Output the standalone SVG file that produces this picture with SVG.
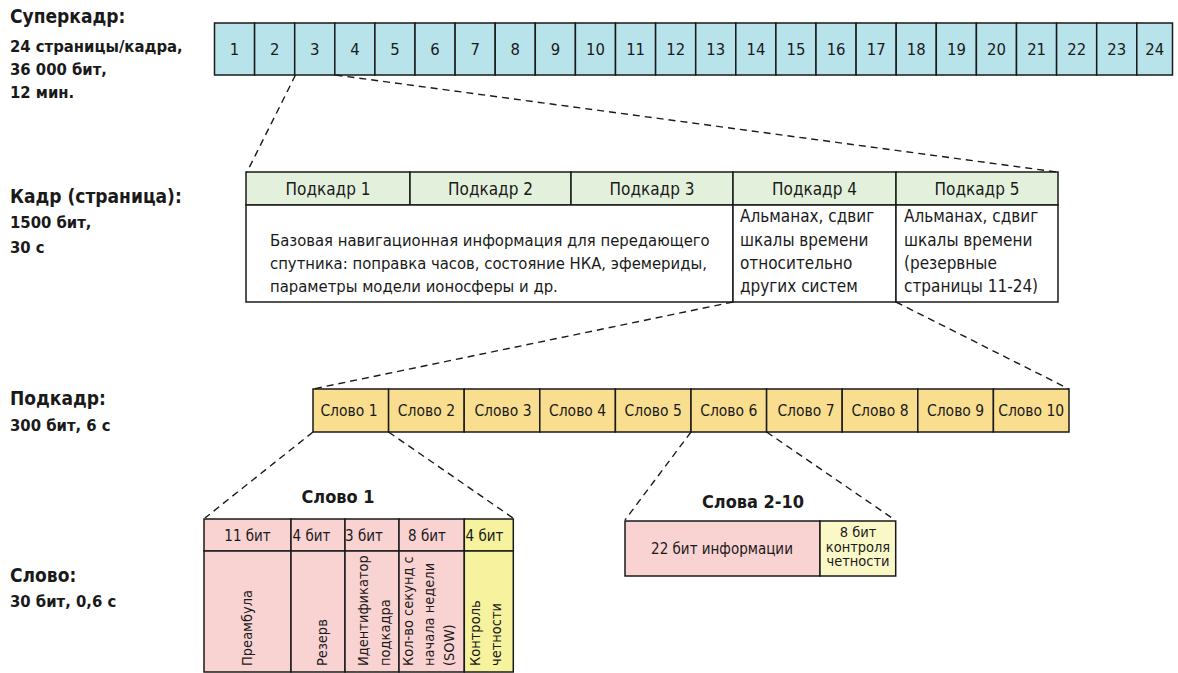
<svg xmlns="http://www.w3.org/2000/svg" width="1178" height="673" viewBox="0 0 1178 673">
  <style>
    text { font-family: "Liberation Sans Narrow", "DejaVu Sans Condensed", "Liberation Sans", sans-serif; fill: #1a1a1a; }
    .lbl { font-weight: bold; font-size: 19px; }
    .sub { font-weight: bold; font-size: 16.5px; }
    .num { font-size: 16.5px; text-anchor: middle; }
    .hd { font-size: 15px; text-anchor: middle; }
    .fh { font-size: 17px; text-anchor: middle; }
    .wl { font-size: 15.5px; text-anchor: middle; }
    .body { font-size: 16.5px; }
    .body2 { font-size: 17px; }
    .rot { font-size: 14.5px; }
    .ttl { font-weight: bold; font-size: 18px; text-anchor: middle; }
    .sm { font-size: 14.5px; text-anchor: middle; }
    .cell { stroke: #1a1a1a; stroke-width: 1.5; }
    .sf { fill: #b9e3ea; }
    .fr { fill: #e3f1dc; }
    .wd { fill: #f9de90; }
    .pk { fill: #f9d2d2; }
    .yl { fill: #f6f29e; }
    .yl2 { fill: #fbf8c8; }
    .wh { fill: #ffffff; }
    .dash { stroke: #1a1a1a; stroke-width: 1.4; stroke-dasharray: 7 5; fill: none; }
  </style>

  <!-- level captions on the left -->
  <g id="captions">
    <text class="lbl" x="10" y="23">Суперкадр:</text>
    <text class="sub" x="10" y="52">24 страницы/кадра,</text>
    <text class="sub" x="10" y="75">36 000 бит,</text>
    <text class="sub" x="10" y="98">12 мин.</text>
    <text class="lbl" x="10" y="203">Кадр (страница):</text>
    <text class="sub" x="10" y="228">1500 бит,</text>
    <text class="sub" x="10" y="253">30 с</text>
    <text class="lbl" x="10" y="405">Подкадр:</text>
    <text class="sub" x="10" y="431">300 бит, 6 с</text>
    <text class="lbl" x="10" y="582">Слово:</text>
    <text class="sub" x="10" y="607">30 бит, 0,6 с</text>
  </g>

  <!-- superframe: 24 pages -->
  <g id="superframe">
    <rect class="cell sf" x="214.5" y="23" width="40.1" height="52"/><text class="num" x="234.6" y="55">1</text>
    <rect class="cell sf" x="254.6" y="23" width="40.1" height="52"/><text class="num" x="274.7" y="55">2</text>
    <rect class="cell sf" x="294.7" y="23" width="40.1" height="52"/><text class="num" x="314.8" y="55">3</text>
    <rect class="cell sf" x="334.8" y="23" width="40.1" height="52"/><text class="num" x="354.9" y="55">4</text>
    <rect class="cell sf" x="374.9" y="23" width="40.1" height="52"/><text class="num" x="395.0" y="55">5</text>
    <rect class="cell sf" x="415.0" y="23" width="40.1" height="52"/><text class="num" x="435.1" y="55">6</text>
    <rect class="cell sf" x="455.1" y="23" width="40.1" height="52"/><text class="num" x="475.2" y="55">7</text>
    <rect class="cell sf" x="495.2" y="23" width="40.1" height="52"/><text class="num" x="515.3" y="55">8</text>
    <rect class="cell sf" x="535.3" y="23" width="40.1" height="52"/><text class="num" x="555.4" y="55">9</text>
    <rect class="cell sf" x="575.4" y="23" width="40.1" height="52"/><text class="num" x="595.5" y="55">10</text>
    <rect class="cell sf" x="615.5" y="23" width="40.1" height="52"/><text class="num" x="635.6" y="55">11</text>
    <rect class="cell sf" x="655.6" y="23" width="40.1" height="52"/><text class="num" x="675.7" y="55">12</text>
    <rect class="cell sf" x="695.7" y="23" width="40.1" height="52"/><text class="num" x="715.8" y="55">13</text>
    <rect class="cell sf" x="735.8" y="23" width="40.1" height="52"/><text class="num" x="755.9" y="55">14</text>
    <rect class="cell sf" x="775.9" y="23" width="40.1" height="52"/><text class="num" x="796.0" y="55">15</text>
    <rect class="cell sf" x="816.0" y="23" width="40.1" height="52"/><text class="num" x="836.1" y="55">16</text>
    <rect class="cell sf" x="856.1" y="23" width="40.1" height="52"/><text class="num" x="876.2" y="55">17</text>
    <rect class="cell sf" x="896.2" y="23" width="40.1" height="52"/><text class="num" x="916.3" y="55">18</text>
    <rect class="cell sf" x="936.3" y="23" width="40.1" height="52"/><text class="num" x="956.4" y="55">19</text>
    <rect class="cell sf" x="976.4" y="23" width="40.1" height="52"/><text class="num" x="996.5" y="55">20</text>
    <rect class="cell sf" x="1016.5" y="23" width="40.1" height="52"/><text class="num" x="1036.6" y="55">21</text>
    <rect class="cell sf" x="1056.6" y="23" width="40.1" height="52"/><text class="num" x="1076.7" y="55">22</text>
    <rect class="cell sf" x="1096.7" y="23" width="40.1" height="52"/><text class="num" x="1116.8" y="55">23</text>
    <rect class="cell sf" x="1136.8" y="23" width="35.7" height="52"/><text class="num" x="1154.7" y="55">24</text>
  </g>

  <!-- frame (page): 5 subframes -->
  <g id="frame">
    <rect class="cell fr" x="246" y="172" width="164" height="33"/>
    <rect class="cell fr" x="410" y="172" width="161" height="33"/>
    <rect class="cell fr" x="571" y="172" width="162" height="33"/>
    <rect class="cell fr" x="733" y="172" width="163" height="33"/>
    <rect class="cell fr" x="896" y="172" width="162" height="33"/>
    <text class="fh" x="328" y="195">Подкадр 1</text>
    <text class="fh" x="490.5" y="195">Подкадр 2</text>
    <text class="fh" x="652" y="195">Подкадр 3</text>
    <text class="fh" x="814.5" y="195">Подкадр 4</text>
    <text class="fh" x="977" y="195">Подкадр 5</text>
    <rect class="cell wh" x="246" y="205" width="487" height="97"/>
    <rect class="cell wh" x="733" y="205" width="163" height="97"/>
    <rect class="cell wh" x="896" y="205" width="162" height="97"/>
    <text class="body" x="270" y="246">Базовая навигационная информация для передающего</text>
    <text class="body" x="270" y="269">спутника: поправка часов, состояние НКА, эфемериды,</text>
    <text class="body" x="270" y="292">параметры модели ионосферы и др.</text>
    <text class="body2" x="740" y="222">Альманах, сдвиг</text>
    <text class="body2" x="740" y="246">шкалы времени</text>
    <text class="body2" x="740" y="269">относительно</text>
    <text class="body2" x="740" y="292">других систем</text>
    <text class="body2" x="904" y="222">Альманах, сдвиг</text>
    <text class="body2" x="904" y="246">шкалы времени</text>
    <text class="body2" x="904" y="269">(резервные</text>
    <text class="body2" x="904" y="292">страницы 11-24)</text>
  </g>

  <!-- subframe: 10 words -->
  <g id="subframe">
    <rect class="cell wd" x="313" y="389" width="75.6" height="43"/><text class="wl" x="349" y="416">Слово 1</text>
    <rect class="cell wd" x="388.6" y="389" width="75.6" height="43"/><text class="wl" x="426.4" y="416">Слово 2</text>
    <rect class="cell wd" x="464.2" y="389" width="75.6" height="43"/><text class="wl" x="503" y="416">Слово 3</text>
    <rect class="cell wd" x="539.8" y="389" width="75.6" height="43"/><text class="wl" x="577.6" y="416">Слово 4</text>
    <rect class="cell wd" x="615.4" y="389" width="75.6" height="43"/><text class="wl" x="653.2" y="416">Слово 5</text>
    <rect class="cell wd" x="691" y="389" width="75.6" height="43"/><text class="wl" x="728.8" y="416">Слово 6</text>
    <rect class="cell wd" x="766.6" y="389" width="75.6" height="43"/><text class="wl" x="806" y="416">Слово 7</text>
    <rect class="cell wd" x="842.2" y="389" width="75.6" height="43"/><text class="wl" x="880" y="416">Слово 8</text>
    <rect class="cell wd" x="917.8" y="389" width="75.6" height="43"/><text class="wl" x="955.6" y="416">Слово 9</text>
    <rect class="cell wd" x="993.4" y="389" width="75.6" height="43"/><text class="wl" x="1031.2" y="416">Слово 10</text>
  </g>

  <!-- word 1 layout -->
  <g id="word1">
    <text class="ttl" x="338" y="503">Слово 1</text>
    <rect class="cell pk" x="204" y="519" width="87" height="32"/>
    <rect class="cell pk" x="291" y="519" width="54" height="32"/>
    <rect class="cell pk" x="345" y="519" width="54" height="32"/>
    <rect class="cell pk" x="399" y="519" width="65.3" height="32"/>
    <rect class="cell yl" x="464.3" y="519" width="49" height="32"/>
    <rect class="cell pk" x="204" y="551" width="87" height="121"/>
    <rect class="cell pk" x="291" y="551" width="54" height="121"/>
    <rect class="cell pk" x="345" y="551" width="54" height="121"/>
    <rect class="cell pk" x="399" y="551" width="65.3" height="121"/>
    <rect class="cell yl" x="464.3" y="551" width="49" height="121"/>
    <text class="hd" x="247.5" y="541">11 бит</text>
    <text class="hd" x="311.5" y="541">4 бит</text>
    <text class="hd" x="364" y="541">3 бит</text>
    <text class="hd" x="427" y="541">8 бит</text>
    <text class="hd" x="484.5" y="541">4 бит</text>
    <text class="rot" transform="translate(252,666) rotate(-90)">Преамбула</text>
    <text class="rot" transform="translate(327,666) rotate(-90)">Резерв</text>
    <text class="rot" transform="translate(368,666) rotate(-90)">Идентификатор</text>
    <text class="rot" transform="translate(390,666) rotate(-90)">подкадра</text>
    <text class="rot" transform="translate(413,666) rotate(-90)">Кол-во секунд с</text>
    <text class="rot" transform="translate(434,666) rotate(-90)">начала недели</text>
    <text class="rot" transform="translate(454,666) rotate(-90)">(SOW)</text>
    <text class="rot" transform="translate(480,666) rotate(-90)">Контроль</text>
    <text class="rot" transform="translate(501,666) rotate(-90)">четности</text>
  </g>

  <!-- words 2-10 layout -->
  <g id="words2to10">
    <text class="ttl" x="753" y="508">Слова 2-10</text>
    <rect class="cell pk" x="625" y="521" width="195" height="55"/>
    <rect class="cell yl2" x="820" y="521" width="75.7" height="55"/>
    <text class="hd" x="722" y="553.5">22 бит информации</text>
    <text class="sm" x="858" y="537">8 бит</text>
    <text class="sm" x="858" y="552">контроля</text>
    <text class="sm" x="858" y="566">четности</text>
  </g>

  <!-- dashed zoom-in connectors between levels -->
  <g id="connectors">
    <line class="dash" x1="295.5" y1="75" x2="247" y2="172"/>
    <line class="dash" x1="335.5" y1="75" x2="1057" y2="172"/>
    <line class="dash" x1="733" y1="302" x2="313" y2="389"/>
    <line class="dash" x1="896" y1="302" x2="1069" y2="389"/>
    <line class="dash" x1="313" y1="432" x2="205" y2="518"/>
    <line class="dash" x1="388.6" y1="432" x2="513" y2="518"/>
    <line class="dash" x1="691" y1="432" x2="625" y2="520"/>
    <line class="dash" x1="766.6" y1="432" x2="895" y2="520"/>
  </g>
</svg>
